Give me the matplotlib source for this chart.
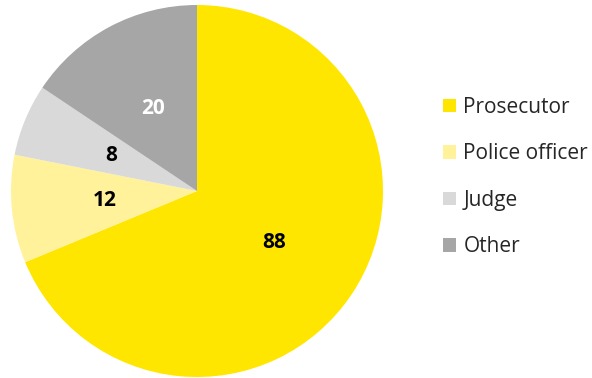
import matplotlib
matplotlib.use("Agg")
import matplotlib.pyplot as plt
from matplotlib.patches import Patch

categories = ["Prosecutor", "Police officer", "Judge", "Other"]
values = [88, 12, 8, 20]
colors = ["#FFE600", "#FFF29A", "#D9D9D9", "#A6A6A6"]
label_colors = ["black", "black", "black", "white"]

plt.rcParams["font.family"] = ["Open Sans", "DejaVu Sans"]

fig = plt.figure(figsize=(5.92, 3.78), dpi=100)
W, H = 592, 378
cx, cy, r = 197, 191, 186
ax = fig.add_axes([(cx - r) / W, (H - cy - r) / H, 2 * r / W, 2 * r / H])

wedges, texts = ax.pie(values, colors=colors, startangle=90, counterclock=False,
                       labels=[str(v) for v in values], labeldistance=0.5,
                       radius=1, frame=False,
                       textprops=dict(fontsize=15, fontweight="bold"))
for t, c in zip(texts, label_colors):
    t.set_color(c)
    t.set_ha("center")
    t.set_va("center")
ax.set_xlim(-1, 1)
ax.set_ylim(-1, 1)
ax.set_aspect("equal")
ax.axis("off")

handles = [Patch(facecolor=c, edgecolor="none") for c in colors]
fig.legend(handles, categories, loc="upper left",
           bbox_to_anchor=(443 / W, 1 - 97 / H), frameon=False,
           borderpad=0, borderaxespad=0,
           fontsize=15, labelspacing=1.22, handlelength=0.6,
           handleheight=0.6, handletextpad=0.38, labelcolor="#262626")

fig.savefig("out.png", dpi=100)
